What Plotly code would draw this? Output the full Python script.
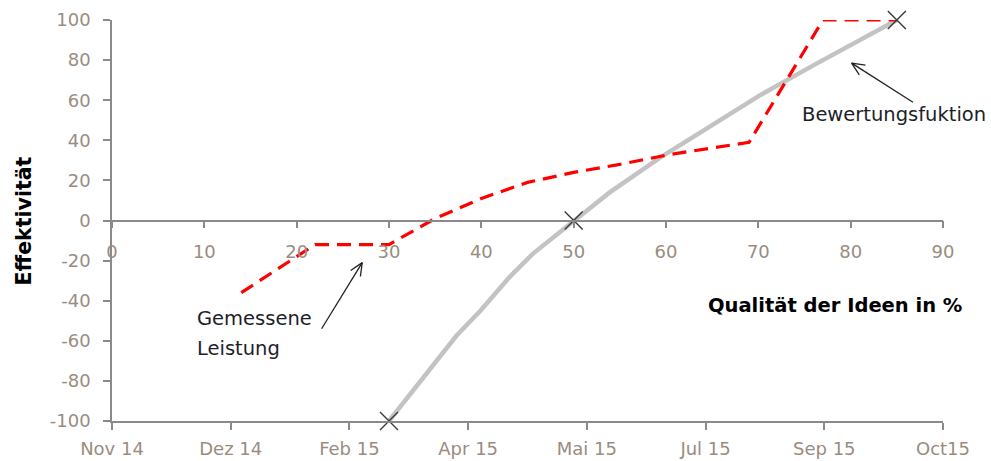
import math
import plotly.graph_objects as go

# ---------------- data ----------------
quality_ticks = [0, 10, 20, 30, 40, 50, 60, 70, 80, 90]
effect_ticks = [-100, -80, -60, -40, -20, 0, 20, 40, 60, 80, 100]
date_labels = ["Nov 14", "Dez 14", "Feb 15", "Apr 15", "Mai 15", "Jul 15", "Sep 15", "Oct15"]

# Bewertungsfunktion (grey)
valuation_x = [30, 32.6, 35, 37.3, 39.9, 43.1, 45.6, 50, 53.9, 59.4, 63.7, 70.2, 76, 79.9, 85]
valuation_y = [-100, -85, -71, -57.5, -45, -28, -16.5, 0, 14, 31.5, 44, 62.5, 77.5, 87, 100]

# Gemessene Leistung (red dashed)
measured_x = [14, 22, 30, 35, 40, 45, 50, 55, 60.5, 69, 77, 85]
measured_y = [-36, -12, -12, 1, 11, 19, 24, 28, 33, 39, 100, 100]

# reference points (x markers)
anchor_x = [30, 50, 85]
anchor_y = [-100, 0, 100]

# annotation arrows: (tail_x, tail_y, head_x, head_y) in data units
arrow_measured = (22.7, -54, 27.1, -21)
arrow_valuation = (86.75, 59, 80.1, 78.5)

# ---------------- style ----------------
W, H = 991, 461
ML, MR, MT, MB = 112, 48, 20, 40
axis_color = "#8a8a8a"
label_color = "#9a8c80"
text_color = "#1e1e2a"
FONT = "DejaVu Sans"

X_RANGE = [0, 90]
Y_RANGE = [-100, 100]
px_x = (W - ML - MR) / (X_RANGE[1] - X_RANGE[0])
px_y = (H - MT - MB) / (Y_RANGE[1] - Y_RANGE[0])


def arrow_trace(arrow, head_len=14, half_angle=0.42):
    tx, ty, hx, hy = arrow
    dx = (tx - hx) * px_x
    dy = (ty - hy) * px_y
    d = math.hypot(dx, dy)
    ux, uy = dx / d, dy / d
    pts_x = [tx, hx, None]
    pts_y = [ty, hy, None]
    for s in (1, -1):
        c, sn = math.cos(s * half_angle), math.sin(s * half_angle)
        rx = ux * c - uy * sn
        ry = ux * sn + uy * c
        pts_x += [hx + rx * head_len / px_x, hx, None]
        pts_y += [hy + ry * head_len / px_y, hy, None]
    return go.Scatter(x=pts_x, y=pts_y, mode="lines", xaxis="x", yaxis="y",
                      line=dict(color="#222222", width=1.3),
                      hoverinfo="skip", showlegend=False, cliponaxis=False)


fig = go.Figure()

# invisible trace to carry the date axis
fig.add_trace(go.Scatter(x=list(range(len(date_labels))), y=[None] * len(date_labels),
                         xaxis="x2", yaxis="y", mode="markers", marker=dict(opacity=0),
                         hoverinfo="skip", showlegend=False))

fig.add_trace(go.Scatter(x=valuation_x, y=valuation_y, mode="lines", xaxis="x", yaxis="y",
                         line=dict(color="#c3c3c3", width=4.5),
                         name="Bewertungsfuktion", showlegend=False, cliponaxis=False))

fig.add_trace(go.Scatter(x=measured_x, y=measured_y, mode="lines", xaxis="x", yaxis="y",
                         line=dict(color="#ff0000", width=3.2, dash="14px,8px"),
                         name="Gemessene Leistung", showlegend=False, cliponaxis=False))

fig.add_trace(go.Scatter(x=anchor_x, y=anchor_y, mode="markers", xaxis="x", yaxis="y",
                         marker=dict(symbol="x-thin", size=18,
                                     line=dict(color="#3a3a3a", width=1.4)),
                         showlegend=False, cliponaxis=False, hoverinfo="skip"))

fig.add_trace(arrow_trace(arrow_measured))
fig.add_trace(arrow_trace(arrow_valuation))

tickfont = dict(family=FONT, size=18, color=label_color)

fig.update_layout(
    width=W, height=H,
    margin=dict(l=ML, r=MR, t=MT, b=MB, pad=0, autoexpand=False),
    plot_bgcolor="white", paper_bgcolor="white",
    showlegend=False,
    xaxis=dict(range=X_RANGE, anchor="free", position=0.5, automargin=False,
               tickmode="array", tickvals=quality_ticks,
               ticktext=[str(v) for v in quality_ticks],
               ticks="outside", ticklen=7, tickwidth=1.5, tickcolor=axis_color,
               showline=True, linecolor=axis_color, linewidth=1.5,
               showgrid=False, zeroline=False, tickfont=tickfont,
               ticklabelstandoff=8),
    xaxis2=dict(range=[0, len(date_labels) - 1], overlaying="x", anchor="y", side="bottom",
                automargin=False,
                tickmode="array", tickvals=list(range(len(date_labels))), ticktext=date_labels,
                ticks="outside", ticklen=7, tickwidth=1.5, tickcolor=axis_color,
                showline=True, linecolor=axis_color, linewidth=1.5,
                showgrid=False, zeroline=False, tickfont=tickfont,
                ticklabelstandoff=4),
    yaxis=dict(range=Y_RANGE, automargin=False, tickmode="array", tickvals=effect_ticks,
               ticktext=[str(v) for v in effect_ticks],
               ticks="outside", ticklen=7, tickwidth=1.5, tickcolor=axis_color,
               showline=True, linecolor=axis_color, linewidth=1.5,
               showgrid=False, zeroline=False, tickfont=tickfont,
               ticklabelstandoff=9),
    annotations=[
        dict(text="<b>Effektivität</b>", xref="paper", yref="paper", x=-0.106, y=0.5,
             textangle=-90, showarrow=False, xanchor="center", yanchor="middle",
             font=dict(family=FONT, size=20.5, color="#000000")),
        dict(text="<b>Qualität der Ideen in %</b>", xref="x", yref="y", x=78.3, y=-42.5,
             showarrow=False, xanchor="center", yanchor="middle",
             font=dict(family=FONT, size=19.5, color="#000000")),
        dict(text="Gemessene", xref="x", yref="y", x=9.0, y=-49,
             showarrow=False, xanchor="left", yanchor="middle",
             font=dict(family=FONT, size=19.5, color=text_color)),
        dict(text="Leistung", xref="x", yref="y", x=9.0, y=-64,
             showarrow=False, xanchor="left", yanchor="middle",
             font=dict(family=FONT, size=19.5, color=text_color)),
        dict(text="Bewertungsfuktion", xref="x", yref="y", x=74.5, y=53,
             showarrow=False, xanchor="left", yanchor="middle",
             font=dict(family=FONT, size=19.5, color=text_color)),
    ],
)

fig.write_html("out.html")
